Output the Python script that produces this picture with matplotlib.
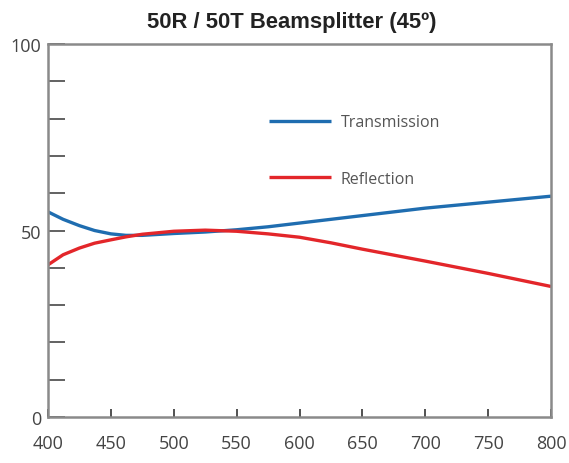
import numpy as np
import matplotlib.pyplot as plt
from matplotlib.ticker import MultipleLocator

# data
wl = [400, 412, 425, 437, 450, 462, 475, 500, 525, 550, 575, 600, 625, 650, 700, 750, 800]
trans = [55.0, 53.0, 51.3, 50.0, 49.1, 48.7, 48.7, 49.2, 49.6, 50.2, 51.0, 52.0, 53.0, 54.0, 56.0, 57.6, 59.2]
refl = [40.8, 43.5, 45.3, 46.6, 47.5, 48.3, 49.0, 49.8, 50.1, 49.8, 49.1, 48.2, 46.7, 45.0, 41.8, 38.5, 35.0]

xticks = [400, 450, 500, 550, 600, 650, 700, 750, 800]
yticks = [0, 50, 100]

plt.rcParams['font.family'] = ['Open Sans', 'DejaVu Sans']

fig = plt.figure(figsize=(5.69, 4.64), dpi=100)
ax = fig.add_axes([0.0844, 0.0991, 0.8840, 0.8039])

ax.plot(wl, trans, color='#1f6db0', lw=2.4, label='Transmission', solid_capstyle='butt')
ax.plot(wl, refl, color='#e3262a', lw=2.4, label='Reflection', solid_capstyle='butt')

ax.set_xlim(400, 800)
ax.set_ylim(0, 100)
ax.set_xticks(xticks)
ax.set_yticks(yticks)
ax.yaxis.set_minor_locator(MultipleLocator(10))

for s in ax.spines.values():
    s.set_color('#8a8a8a')
    s.set_linewidth(1.8)

ax.tick_params(axis='x', direction='in', length=6, width=1.1, color='#222222',
               labelsize=13, labelcolor='#444444', pad=12)
ax.tick_params(axis='y', which='both', direction='in', length=12, width=1.3,
               color='#555555', labelsize=13, labelcolor='#444444', pad=5)

ax.set_title('50R / 50T Beamsplitter (45º)', fontsize=15.8, fontweight='heavy',
             family=['Liberation Sans', 'DejaVu Sans'], color='#222222', pad=12, x=0.485)

leg = ax.legend(loc='upper left', bbox_to_anchor=(0.41, 0.85), frameon=False,
                handlelength=3.9, handletextpad=0.6, labelspacing=2.55,
                fontsize=11.5, labelcolor='#555555')

fig.savefig('out.png', dpi=100)
